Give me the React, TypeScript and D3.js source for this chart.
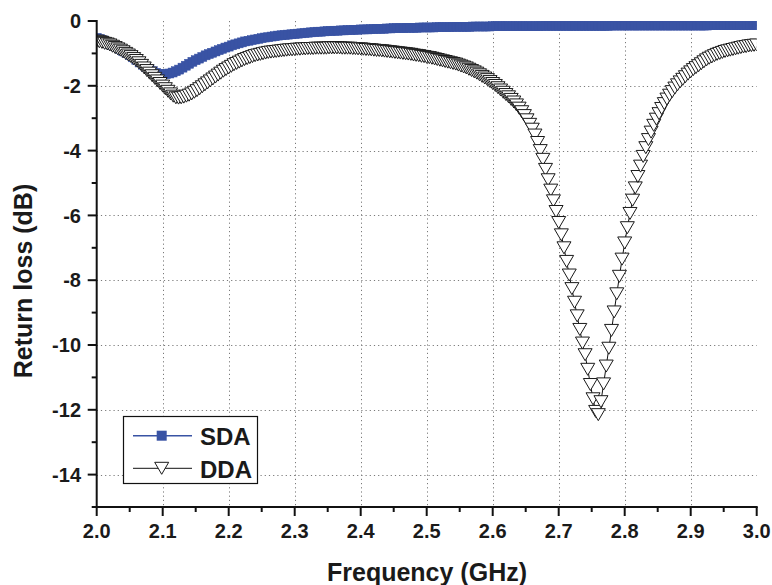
import React from "react";
import * as d3 from "d3";

// ---- data ----
const xTickValues = [2.0, 2.1, 2.2, 2.3, 2.4, 2.5, 2.6, 2.7, 2.8, 2.9, 3.0];
const xMinorValues = [2.05, 2.15, 2.25, 2.35, 2.45, 2.55, 2.65, 2.75, 2.85, 2.95];
const yTickValues = [0, -2, -4, -6, -8, -10, -12, -14];
const yMinorValues = [-1, -3, -5, -7, -9, -11, -13, -15];

const sdaStart = 2.0;
const sdaStep = 0.005;
const sdaValues = [
  -0.52, -0.56, -0.6, -0.65, -0.7, -0.75, -0.8, -0.86, -0.92, -0.98,
  -1.05, -1.12, -1.2, -1.28, -1.35, -1.42, -1.49, -1.55, -1.6, -1.63,
  -1.65, -1.64, -1.62, -1.59, -1.55, -1.5, -1.44, -1.38, -1.32, -1.26,
  -1.21, -1.16, -1.11, -1.06, -1.02, -0.98, -0.94, -0.9, -0.86, -0.82,
  -0.79, -0.75, -0.72, -0.69, -0.66, -0.63, -0.61, -0.59, -0.57, -0.55,
  -0.53, -0.51, -0.5, -0.48, -0.47, -0.45, -0.44, -0.43, -0.42, -0.41,
  -0.4,
  -0.39, -0.38, -0.37, -0.36, -0.35, -0.34, -0.33, -0.33, -0.32, -0.31,
  -0.31, -0.3, -0.3, -0.29, -0.29, -0.28, -0.28, -0.27, -0.27, -0.26,
  -0.26, -0.26, -0.25, -0.25, -0.24, -0.24, -0.24, -0.23, -0.23, -0.22,
  -0.22, -0.22, -0.22, -0.21, -0.21, -0.21, -0.21, -0.2, -0.2, -0.2,
  -0.2, -0.2, -0.19, -0.19, -0.19, -0.19, -0.19, -0.18, -0.18, -0.18,
  -0.18, -0.18, -0.18, -0.17, -0.17, -0.17, -0.17, -0.17, -0.17, -0.16,
  -0.16, -0.16, -0.16, -0.16, -0.16, -0.16, -0.16, -0.16, -0.16, -0.16,
  -0.16, -0.16, -0.16, -0.16, -0.15, -0.15, -0.15, -0.15, -0.15, -0.15,
  -0.15, -0.15, -0.15, -0.15, -0.15, -0.15, -0.15, -0.15, -0.15, -0.15,
  -0.15, -0.15, -0.15, -0.15, -0.15, -0.14, -0.14, -0.14, -0.14, -0.14,
  -0.14, -0.14, -0.14, -0.14, -0.14, -0.14, -0.14, -0.14, -0.14, -0.14,
  -0.14, -0.14, -0.14, -0.14, -0.14, -0.14, -0.14, -0.14, -0.14, -0.14,
  -0.14, -0.14, -0.14, -0.14, -0.14, -0.13, -0.13, -0.13, -0.13, -0.13,
  -0.13, -0.13, -0.13, -0.13, -0.13, -0.13, -0.13, -0.13, -0.13, -0.13,
];

const ddaStart = 2.0;
const ddaStep = 0.004;
const ddaValues = [
  -0.62, -0.64, -0.66, -0.69, -0.71, -0.74, -0.78, -0.82, -0.86, -0.9,
  -0.95, -1.0, -1.05, -1.1, -1.16, -1.22, -1.29, -1.37, -1.45, -1.53,
  -1.61, -1.69, -1.77, -1.85, -1.93, -2.01, -2.09, -2.17, -2.25, -2.32,
  -2.37, -2.38, -2.37, -2.35, -2.32, -2.29, -2.25, -2.2, -2.15, -2.09,
  -2.03, -1.97, -1.91, -1.85, -1.79, -1.73, -1.67, -1.61, -1.55, -1.5,
  -1.45, -1.4, -1.35, -1.31, -1.27, -1.23, -1.19, -1.16, -1.13, -1.1,
  -1.07, -1.05, -1.03, -1.01, -0.99, -0.97, -0.96, -0.95, -0.94, -0.93,
  -0.92, -0.91, -0.9, -0.89, -0.89, -0.88, -0.87, -0.87, -0.86, -0.86,
  -0.85, -0.85, -0.85, -0.84, -0.84, -0.84, -0.84, -0.84, -0.83, -0.83,
  -0.83, -0.83, -0.83, -0.84, -0.84, -0.84, -0.84, -0.85, -0.85, -0.86,
  -0.86, -0.87, -0.88, -0.88, -0.89, -0.9, -0.91, -0.91, -0.92, -0.93,
  -0.94, -0.95, -0.96, -0.97, -0.98, -0.99, -1.0, -1.01, -1.02, -1.03,
  -1.05, -1.06, -1.07, -1.09, -1.1, -1.12, -1.13, -1.15, -1.17, -1.19,
  -1.21, -1.23, -1.25, -1.27, -1.29, -1.31, -1.33, -1.36, -1.39, -1.42,
  -1.45, -1.49, -1.53, -1.57, -1.61, -1.66, -1.71, -1.76, -1.81, -1.87,
  -1.93, -1.99, -2.06, -2.13, -2.2, -2.27, -2.34, -2.42, -2.5, -2.59,
  -2.69, -2.8, -2.92, -3.05, -3.19, -3.34, -3.52, -3.75, -4.0, -4.27,
  -4.58, -4.9, -5.22, -5.55, -5.88, -6.22, -6.6, -7.0, -7.42, -7.84,
  -8.26, -8.68, -9.1, -9.52, -9.94, -10.3, -10.75, -11.22, -11.66, -12.05,
  -12.15, -11.75, -11.2, -10.65, -10.1, -9.55, -8.98, -8.42, -7.88, -7.35,
  -6.85, -6.38, -5.94, -5.53, -5.15, -4.8, -4.48, -4.18, -3.91, -3.66,
  -3.43, -3.22, -3.03, -2.86, -2.7, -2.55, -2.41, -2.29, -2.18, -2.07,
  -1.97, -1.88, -1.8, -1.72, -1.64, -1.57, -1.5, -1.44, -1.38, -1.32,
  -1.26, -1.2, -1.15, -1.11, -1.07, -1.03, -1.0, -0.97, -0.94, -0.92,
  -0.9, -0.88, -0.86, -0.84, -0.82, -0.8, -0.79, -0.77, -0.76, -0.75,
  -0.74,
];

const seriesNames = ["SDA", "DDA"];

// ---- layout ----
const W = 772;
const H = 585;
const X0 = 96.7;
const X1 = 756.7;
const Y0 = 21;
const Y1 = 507;
const BLUE = "#3953a4";
const FONT = "'Liberation Sans', Arial, Helvetica, sans-serif";

const x = d3.scaleLinear().domain([2.0, 3.0]).range([X0, X1]);
const y = d3.scaleLinear().domain([-15, 0]).range([Y1, Y0]);

const sdaPts: [number, number][] = sdaValues.map((v, i) => [sdaStart + i * sdaStep, v]);
const ddaPts: [number, number][] = ddaValues.map((v, i) => [ddaStart + i * ddaStep, v]);

const line = d3
  .line<[number, number]>()
  .x((d) => x(d[0]))
  .y((d) => y(d[1]));

const SQ = 9;
const TW = 7;
const TH = 6;
const triPath = (cx: number, cy: number) =>
  `M${cx - TW},${cy - TH}L${cx + TW},${cy - TH}L${cx},${cy + TH}Z`;

export default function App() {
  return (
    <svg
      width={W}
      height={H}
      viewBox={`0 0 ${W} ${H}`}
      style={{ position: "absolute", left: 0, top: 0, background: "#fff" }}
      fontFamily={FONT}
    >
      <defs>
        <clipPath id="plotClip">
          <rect x={X0} y={Y0} width={X1 - X0} height={Y1 - Y0} />
        </clipPath>
      </defs>
      <rect x={0} y={0} width={W} height={H} fill="#fff" />

      {/* grid */}
      <g stroke="#7a7a7a" strokeWidth={1} strokeDasharray="1.2,3">
        {xTickValues
          .filter((t) => t > 2.0 && t < 3.0)
          .map((t) => (
            <line key={"gx" + t} x1={Math.round(x(t)) + 0.5} x2={Math.round(x(t)) + 0.5} y1={Y0} y2={Y1} />
          ))}
        {yTickValues
          .filter((t) => t < 0)
          .map((t) => (
            <line key={"gy" + t} x1={X0} x2={X1} y1={Math.round(y(t)) + 0.5} y2={Math.round(y(t)) + 0.5} />
          ))}
      </g>

      {/* series */}
      <g clipPath="url(#plotClip)">
        <path d={line(sdaPts) || ""} fill="none" stroke={BLUE} strokeWidth={1.5} />
        {sdaPts.map((d, i) => (
          <rect
            key={"s" + i}
            x={x(d[0]) - SQ / 2}
            y={y(d[1]) - SQ / 2}
            width={SQ}
            height={SQ}
            fill={BLUE}
            stroke={BLUE}
            strokeWidth={0.5}
          />
        ))}
        <path d={line(ddaPts) || ""} fill="none" stroke="#111" strokeWidth={1} />
        {ddaPts.map((d, i) => (
          <path key={"d" + i} d={triPath(x(d[0]), y(d[1]))} fill="#fff" stroke="#1a1a1a" strokeWidth={1} />
        ))}
      </g>

      {/* axes */}
      <g stroke="#111" strokeWidth={2} fill="none">
        <line x1={X0} x2={X0} y1={Y0 - 1} y2={Y1 + 1} />
        <line x1={X0 - 1} x2={X1 + 1} y1={Y1} y2={Y1} />
        {yTickValues.map((t) => (
          <line key={"yt" + t} x1={X0 - 9} x2={X0} y1={y(t)} y2={y(t)} />
        ))}
        {yMinorValues.map((t) => (
          <line key={"ym" + t} x1={X0 - 5} x2={X0} y1={y(t)} y2={y(t)} />
        ))}
        {xTickValues.map((t) => (
          <line key={"xt" + t} x1={x(t)} x2={x(t)} y1={Y1} y2={Y1 + 9} />
        ))}
        {xMinorValues.map((t) => (
          <line key={"xm" + t} x1={x(t)} x2={x(t)} y1={Y1} y2={Y1 + 5} />
        ))}
      </g>

      {/* tick labels */}
      <g fontSize={20} fontWeight="bold" fill="#1a1a1a">
        {yTickValues.map((t) => (
          <text key={"yl" + t} x={81} y={y(t)} dy="0.36em" textAnchor="end">
            {String(t)}
          </text>
        ))}
        {xTickValues.map((t) => (
          <text key={"xl" + t} x={x(t)} y={538} textAnchor="middle">
            {t.toFixed(1)}
          </text>
        ))}
      </g>

      {/* axis titles */}
      <text x={427} y={581} textAnchor="middle" fontSize={25} fontWeight="bold" fill="#1a1a1a">
        Frequency (GHz)
      </text>
      <text
        transform={`translate(32,281) rotate(-90)`}
        textAnchor="middle"
        fontSize={25}
        fontWeight="bold"
        fill="#1a1a1a"
      >
        Return loss (dB)
      </text>

      {/* legend */}
      <g>
        <rect x={123.5} y={416.5} width={134} height={67} fill="#fff" stroke="#111" strokeWidth={1.2} />
        <line x1={133} x2={192} y1={435.7} y2={435.7} stroke={BLUE} strokeWidth={1.5} />
        <rect x={161.7 - 5} y={435.7 - 5} width={10} height={10} fill={BLUE} />
        <text x={200} y={445} fontSize={24} fontWeight="bold" fill="#1a1a1a">
          {seriesNames[0]}
        </text>
        <line x1={133} x2={192} y1={468.3} y2={468.3} stroke="#111" strokeWidth={1} />
        <path d={triPath(161.7, 468.3)} fill="#fff" stroke="#1a1a1a" strokeWidth={1} />
        <text x={200} y={477.5} fontSize={24} fontWeight="bold" fill="#1a1a1a">
          {seriesNames[1]}
        </text>
      </g>
    </svg>
  );
}
